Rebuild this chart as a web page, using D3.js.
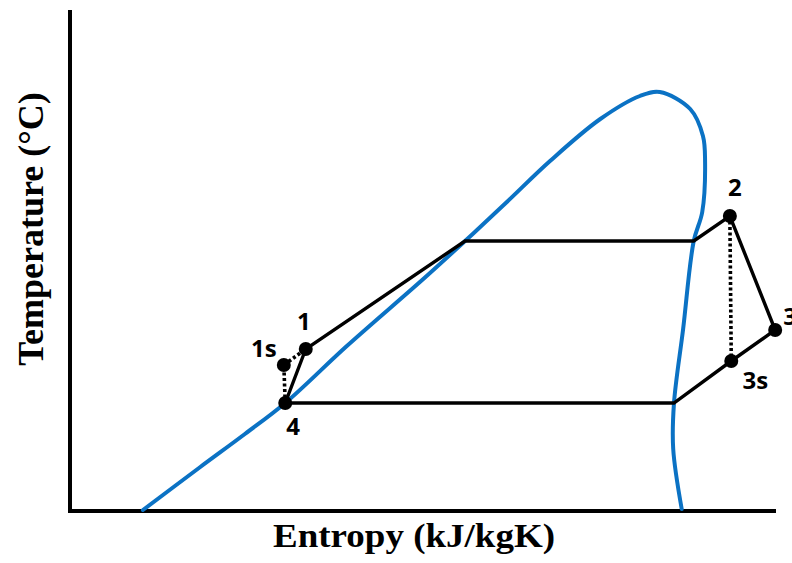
<!DOCTYPE html>
<html>
<head>
<meta charset="utf-8">
<script src="https://cdn.jsdelivr.net/npm/d3@7"></script>
<style>
  html, body { margin: 0; padding: 0; background: #fff; }
  svg { display: block; }
</style>
</head>
<body>
<svg id="chart" width="792" height="563"></svg>
<script>
// Saturation dome (entropy, temperature) in arbitrary units
const domeS = [1.03, 1.84, 2.47, 3.04, 3.91, 4.99, 5.58, 6.17, 6.78, 7.49, 8.05, 8.33, 8.76, 8.94, 8.97, 8.93, 8.81, 8.66, 8.53, 8.52, 8.64];
const domeT = [0.2, 8.8, 15.4, 21.6, 33.0, 46.4, 54.0, 61.8, 70.0, 78.4, 83.0, 83.8, 80.4, 75.0, 69.8, 59.8, 54.0, 36.4, 21.4, 12.4, 0.4];

// Cycle path: 4 -> 1 -> liquid sat. -> vapour sat. -> 2 -> 3 -> 3s -> vapour sat. -> 4
const cycleS = [3.04, 3.33, 5.58, 8.81, 9.32, 9.96, 9.34, 8.53, 3.04];
const cycleT = [21.6, 32.4, 54.0, 54.0, 59.0, 36.2, 30.0, 21.6, 21.6];

// Isentropic reference legs (dotted)
const isoLegs = [
  { s: [9.32, 9.34], t: [59.0, 30.0] },   // 2 -> 3s
  { s: [3.04, 3.02, 3.33], t: [21.6, 29.2, 32.4] } // 4 -> 1s -> 1
];

// State points
const stateNames = ["1", "1s", "2", "3", "3s", "4"];
const stateS = [3.33, 3.02, 9.32, 9.96, 9.34, 3.04];
const stateT = [32.4, 29.2, 59.0, 36.2, 30.0, 21.6];
// label offsets in px (dx, dy) relative to each point
const labelDx = [-2, -20, 5, 8, 24, 8];
const labelDy = [-25, -14, -26, -11, 22, 26];
const labelAnchor = ["middle", "middle", "middle", "start", "middle", "middle"];

const svg = d3.select("#chart");
const x = d3.scaleLinear().domain([0, 10]).range([70, 778]);
const y = d3.scaleLinear().domain([0, 100]).range([511, 11]);

// Axes as plain frame lines (no ticks)
svg.append("line")
  .attr("x1", x(0)).attr("x2", x(0))
  .attr("y1", y(100) - 1).attr("y2", y(0) + 2)
  .attr("stroke", "#000").attr("stroke-width", 4);
svg.append("line")
  .attr("x1", x(0) - 2).attr("x2", x(10) - 2)
  .attr("y1", y(0)).attr("y2", y(0))
  .attr("stroke", "#000").attr("stroke-width", 4);

// Dome
const dome = domeS.map((s, i) => [s, domeT[i]]);
svg.append("path")
  .datum(dome)
  .attr("d", d3.line().x(d => x(d[0])).y(d => y(d[1])).curve(d3.curveCatmullRom.alpha(0.5)))
  .attr("fill", "none")
  .attr("stroke", "#0B72C4")
  .attr("stroke-width", 4)
  .attr("stroke-linecap", "round");

// Cycle
const cycle = cycleS.map((s, i) => [s, cycleT[i]]);
svg.append("path")
  .datum(cycle)
  .attr("d", d3.line().x(d => x(d[0])).y(d => y(d[1])))
  .attr("fill", "none")
  .attr("stroke", "#000")
  .attr("stroke-width", 3.4)
  .attr("stroke-linejoin", "miter");

// Dotted isentropic lines
isoLegs.forEach(leg => {
  svg.append("path")
    .datum(leg.s.map((s, i) => [s, leg.t[i]]))
    .attr("d", d3.line().x(d => x(d[0])).y(d => y(d[1])))
    .attr("fill", "none")
    .attr("stroke", "#000")
    .attr("stroke-width", 3.6)
    .attr("stroke-dasharray", "3,2.5");
});

// State points
const states = stateNames.map((n, i) => ({ n, s: stateS[i], t: stateT[i], dx: labelDx[i], dy: labelDy[i], a: labelAnchor[i] }));
svg.selectAll("circle.state")
  .data(states)
  .join("circle")
  .attr("class", "state")
  .attr("cx", d => x(d.s))
  .attr("cy", d => y(d.t))
  .attr("r", 7)
  .attr("fill", "#000");

svg.selectAll("text.state")
  .data(states)
  .join("text")
  .attr("class", "state")
  .attr("x", d => x(d.s) + d.dx)
  .attr("y", d => y(d.t) + d.dy)
  .attr("text-anchor", d => d.a)
  .attr("dominant-baseline", "middle")
  .attr("font-family", "'Open Sans', 'Noto Sans', sans-serif")
  .attr("font-weight", 700)
  .attr("font-size", 24)
  .attr("fill", "#000")
  .text(d => d.n);

// Axis titles
svg.append("text")
  .attr("x", 273).attr("y", 547)
  .attr("font-family", "'Liberation Serif', 'Times New Roman', serif")
  .attr("font-weight", 700)
  .attr("font-size", 34)
  .attr("textLength", 282)
  .attr("lengthAdjust", "spacingAndGlyphs")
  .text("Entropy (kJ/kgK)");

svg.append("text")
  .attr("transform", "translate(43,229) rotate(-90)")
  .attr("text-anchor", "middle")
  .attr("font-family", "'Liberation Serif', 'Times New Roman', serif")
  .attr("font-weight", 700)
  .attr("font-size", 36)
  .text("Temperature (\u00B0C)");
</script>
</body>
</html>
